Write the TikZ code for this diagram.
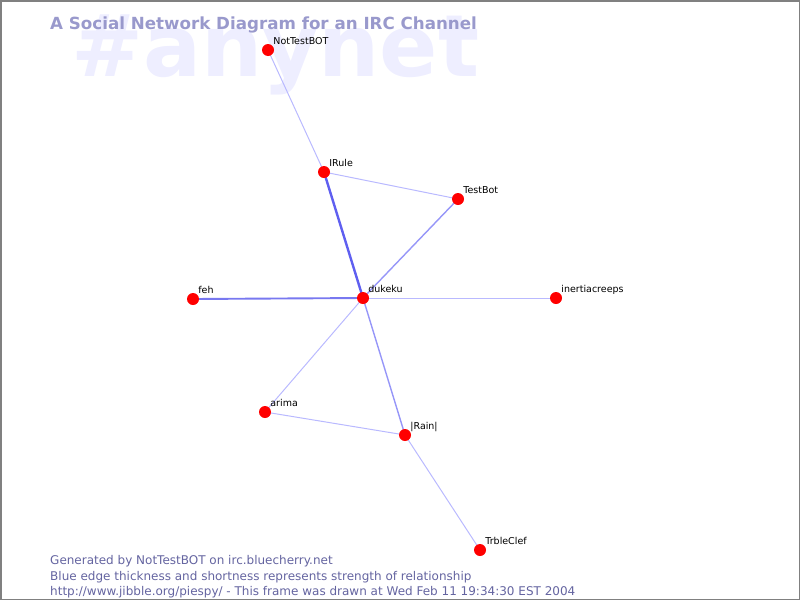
\documentclass[tikz,border=0pt]{standalone}
\usepackage{fontspec}
\setmainfont{DejaVu Sans}
\usepackage{xcolor}
\usetikzlibrary{positioning,backgrounds}
\definecolor{markfg}{RGB}{238,238,255}
\definecolor{titlefg}{RGB}{153,153,204}
\definecolor{footfg}{RGB}{100,100,160}
\definecolor{edgeA}{RGB}{95,95,240}
\definecolor{edgeB}{RGB}{120,120,240}
\definecolor{edgeC}{RGB}{150,150,248}
\definecolor{edgeD}{RGB}{185,185,255}

\begin{document}
\begin{tikzpicture}[
    x = 1pt, y = -1pt,
    user/.style={circle, fill=red, inner sep=0pt, minimum size=12pt,
        label={[anchor=base west, inner sep=0pt, label distance=0pt,
                font=\fontsize{9.5}{11}\selectfont, xshift=-1pt, yshift=6pt]0:#1}},
    strong/.style={draw=edgeA, line width=2.4pt},
    good/.style={draw=edgeB, line width=1.9pt},
    fair/.style={draw=edgeC, line width=1.4pt},
    weak/.style={draw=edgeD, line width=1pt},
    footline/.style={anchor=base west, inner sep=0pt, text=footfg,
        font=\fontsize{12}{14}\selectfont}
]
    \useasboundingbox (0,0) rectangle (800,600);
    \draw[gray, line width=1.5pt] (0.75,0.75) rectangle (799.25,599.25);

    \node[user=NotTestBOT] (nottestbot) at (268,50) {};
    \node[user=IRule] (irule) at (324,172) {};
    \node[user=TestBot] (testbot) at (458,199) {};
    \node[user=dukeku] (dukeku) at (363,298) {};
    \node[user=feh] (feh) at (193,299) {};
    \node[user=inertiacreeps] (inertia) at (556,298) {};
    \node[user=arima] (arima) at (265,412) {};
    \node[user=|Rain|] (rain) at (405,435) {};
    \node[user=TrbleClef] (trbleclef) at (480,550) {};

    \begin{pgfonlayer}{background}
    % channel name and title behind the graph
    \node[anchor=base west, inner sep=0pt, text=markfg,
          font=\fontsize{86}{92}\bfseries] (mark) at (71,76) {\#anynet};
    \node[anchor=base west, inner sep=0pt, text=titlefg,
          font=\fontsize{16.7}{18}\bfseries] (title) at (50,29)
          {A Social Network Diagram for an IRC Channel};
    \path
        (nottestbot.center) edge[weak] (irule.center)
        (irule.center) edge[weak] (testbot.center)
        (irule.center) edge[strong] (dukeku.center)
        (testbot.center) edge[fair] (dukeku.center)
        (feh.center) edge[good] (dukeku.center)
        (dukeku.center) edge[weak] (inertia.center)
        (dukeku.center) edge[weak] (arima.center)
        (dukeku.center) edge[fair] (rain.center)
        (arima.center) edge[weak] (rain.center)
        (rain.center) edge[weak] (trbleclef.center);
    \end{pgfonlayer}

    \node[footline] (foot1) at (50,564) {Generated by NotTestBOT on irc.bluecherry.net};
    \node[footline] (foot2) at (50,580) {Blue edge thickness and shortness represents strength of relationship};
    \node[footline] (foot3) at (50,595) {http://www.jibble.org/piespy/ - This frame was drawn at Wed Feb 11 19:34:30 EST 2004};
\end{tikzpicture}
\end{document}
